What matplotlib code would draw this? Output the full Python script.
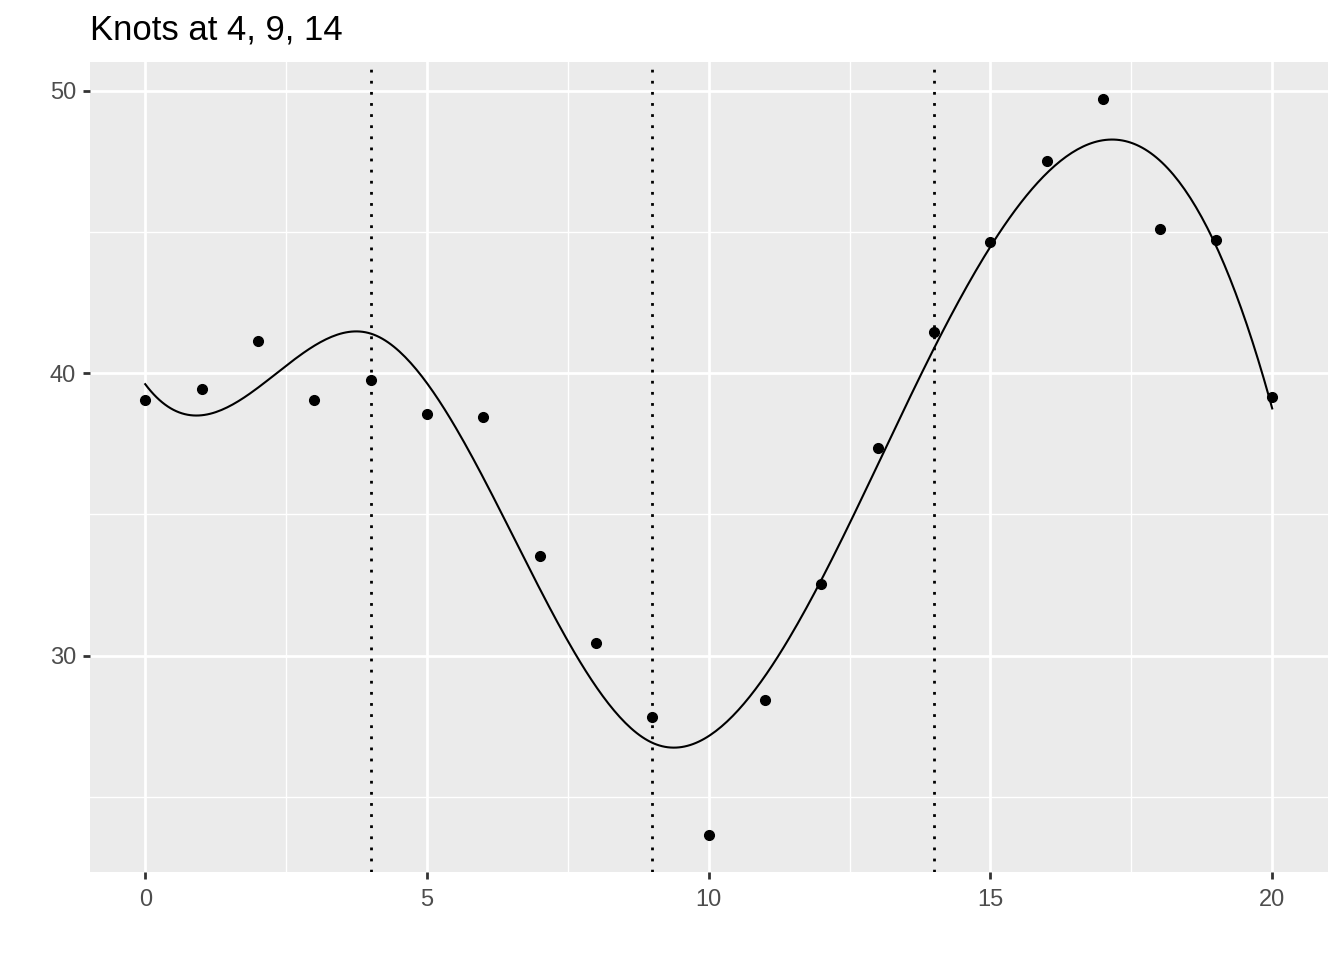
import numpy as np
import matplotlib
matplotlib.use("Agg")
import matplotlib.pyplot as plt

# data
x_vals = np.arange(0, 21)
y_vals = [39.05, 39.43, 41.13, 39.05, 39.75, 38.55, 38.45, 33.53, 30.46, 27.84,
          23.64, 28.44, 32.54, 37.35, 41.45, 44.63, 47.53, 49.72, 45.12, 44.73, 39.15]
knots = [4, 9, 14]

# cubic regression spline, truncated power basis (same fit as lm(y ~ bs(x, knots)))
def basis(x):
    x = np.asarray(x, dtype=float)
    cols = [np.ones_like(x), x, x ** 2, x ** 3]
    for k in knots:
        cols.append(np.clip(x - k, 0, None) ** 3)
    return np.column_stack(cols)

coef, *_ = np.linalg.lstsq(basis(x_vals), np.array(y_vals), rcond=None)
x_fit = np.linspace(0, 20, 400)
y_fit = basis(x_fit) @ coef

plt.rcParams['font.family'] = ['Liberation Sans', 'DejaVu Sans']

fig = plt.figure(figsize=(13.44, 9.6), dpi=100)
ax = fig.add_axes([90 / 1344, 1 - 872 / 960, (1328 - 90) / 1344, (872 - 62) / 960])
ax.set_facecolor('#EBEBEB')
for s in ax.spines.values():
    s.set_visible(False)

ax.set_xlim(-0.98, 20.99)
ax.set_ylim(22.34, 51.02)
ax.set_xticks([0, 5, 10, 15, 20])
ax.set_yticks([30, 40, 50])
ax.set_xticks([2.5, 7.5, 12.5, 17.5], minor=True)
ax.set_yticks([25, 35, 45], minor=True)
ax.grid(which='major', color='white', linewidth=2.0)
ax.grid(which='minor', color='white', linewidth=1.0)
ax.set_axisbelow(True)
ax.tick_params(which='major', length=5, width=2.0, color='#333333',
               labelsize=17, labelcolor='#4D4D4D', pad=5)
ax.tick_params(axis='x', which='major', pad=7)
ax.tick_params(which='minor', length=0)

for k in knots:
    ax.axvline(k, color='black', linewidth=2.0, linestyle=(0, (1, 3)))

ax.plot(x_fit, y_fit, color='black', linewidth=1.5)
ax.plot(x_vals, y_vals, 'o', color='black', markersize=7)

fig.text(90 / 1344, 1 - 30 / 960, 'Knots at 4, 9, 14', fontsize=25, va='center', ha='left')

fig.savefig('out.png', dpi=100)
